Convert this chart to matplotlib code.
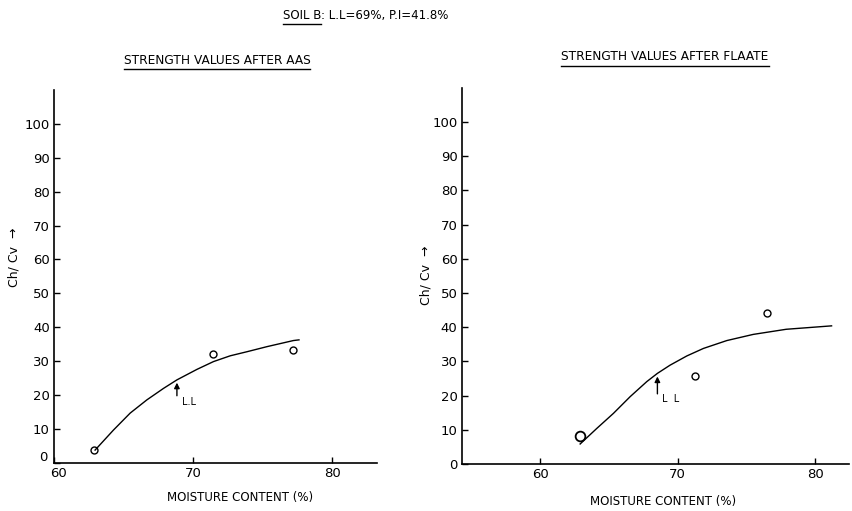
import matplotlib
matplotlib.use('Agg')
import matplotlib.pyplot as plt
import matplotlib.transforms as mtransforms
from matplotlib.lines import Line2D

# data
aas_x = [62.9, 71.4, 77.2]
aas_y = [3.8, 32.2, 33.3]
aas_curve_x = [62.95, 64.27, 65.47, 66.67, 67.87, 68.83, 70.27, 71.46, 72.66, 73.86, 75.3, 77.2, 77.6]
aas_curve_y = [3.8, 9.7, 14.7, 18.6, 22.0, 24.5, 27.6, 29.9, 31.6, 32.8, 34.3, 36.1, 36.3]

flaate_x = [62.9, 71.3, 76.5]
flaate_y = [8.2, 25.7, 44.2]
flaate_curve_x = [62.91, 64.12, 65.33, 66.55, 67.76, 68.53, 69.45, 70.67, 71.88, 73.58, 75.5, 77.9, 81.2]
flaate_curve_y = [5.85, 10.4, 14.8, 19.7, 24.1, 26.5, 28.9, 31.6, 33.8, 36.1, 37.9, 39.4, 40.4]

ll_aas = (68.83, 24.5)
ll_flaate = (68.53, 26.4)

xticks = [60, 70, 80]
yticks = list(range(0, 101, 10))

plt.rcParams['font.family'] = 'DejaVu Sans'
fig = plt.figure(figsize=(8.52, 5.11), dpi=100)

ax1 = fig.add_axes([0.0634, 0.094, 0.379, 0.730])
ax2 = fig.add_axes([0.542, 0.092, 0.455, 0.736])


def style(ax, xlim):
    ax.set_xlim(*xlim)
    ax.set_ylim(0, 110)
    for s in ['top', 'right']:
        ax.spines[s].set_visible(False)
    for s in ['left', 'bottom']:
        ax.spines[s].set_linewidth(1.2)
    ax.set_xticks(xticks)
    ax.set_yticks(yticks)
    ax.tick_params(direction='in', length=4, width=1, labelsize=9.5, pad=3)


style(ax1, (60, 83.2))
style(ax2, (54.3, 82.5))

# the "0" on the left panel sits a little above the axis in the scan
fig.canvas.draw()
lab0 = ax1.get_yticklabels()[0]
lab0.set_transform(lab0.get_transform() + mtransforms.ScaledTranslation(-2 / 72, 5 / 72, fig.dpi_scale_trans))
lab60 = ax1.get_xticklabels()[0]
lab60.set_transform(lab60.get_transform() + mtransforms.ScaledTranslation(3 / 72, 0, fig.dpi_scale_trans))

ax1.plot(aas_curve_x, aas_curve_y, color='black', lw=1.0)
ax1.plot(aas_x, aas_y, 'o', mfc='none', mec='black', ms=5, mew=1.0)
ax1.annotate('', xy=ll_aas, xytext=(ll_aas[0], ll_aas[1] - 5.5),
             arrowprops=dict(arrowstyle='-|>', color='black', lw=1, mutation_scale=8))
ax1.text(ll_aas[0] + 0.35, 18, 'L.L', fontsize=7, va='center')

ax2.plot(flaate_curve_x, flaate_curve_y, color='black', lw=1.0)
ax2.plot(flaate_x[1:], flaate_y[1:], 'o', mfc='none', mec='black', ms=5, mew=1.0)
ax2.plot(flaate_x[:1], flaate_y[:1], 'o', mfc='none', mec='black', ms=7, mew=1.3)
ax2.annotate('', xy=ll_flaate, xytext=(ll_flaate[0], 19.7),
             arrowprops=dict(arrowstyle='-|>', color='black', lw=1, mutation_scale=8))
ax2.text(ll_flaate[0] + 0.35, 19.0, 'L  L', fontsize=7, va='center')

# y labels
fig.text(14 / 852, 1 - 257 / 511, 'Ch/ Cv  \u2192', rotation=90, ha='center', va='center', fontsize=9)
fig.text(426 / 852, 1 - 275 / 511, 'Ch/ Cv  \u2192', rotation=90, ha='center', va='center', fontsize=9)

# x labels
fig.text(240 / 852, 1 - 498 / 511, 'MOISTURE CONTENT (%)', ha='center', va='center', fontsize=8.5)
fig.text(663 / 852, 1 - 502 / 511, 'MOISTURE CONTENT (%)', ha='center', va='center', fontsize=8.5)

# titles
t1 = fig.text(217 / 852, 1 - 60 / 511, 'STRENGTH VALUES AFTER AAS', ha='center', va='center', fontsize=8.7)
t2 = fig.text(665 / 852, 1 - 57 / 511, 'STRENGTH VALUES AFTER FLAATE', ha='center', va='center', fontsize=8.7)
t0a = fig.text(283 / 852, 1 - 15 / 511, 'SOIL B', ha='left', va='center', fontsize=8.5)

renderer = fig.canvas.get_renderer()
inv = fig.transFigure.inverted()
bb = t0a.get_window_extent(renderer=renderer)
x_after = inv.transform((bb.x1, bb.y0))[0]
fig.text(x_after, 1 - 15 / 511, ': L.L=69%, P.I=41.8%', ha='left', va='center', fontsize=8.5)

for t in [t1, t2, t0a]:
    bb = t.get_window_extent(renderer=renderer)
    (x0, y0), (x1, y1) = inv.transform([(bb.x0, bb.y0), (bb.x1, bb.y1)])
    fig.add_artist(Line2D([x0, x1], [y0 - 0.004, y0 - 0.004], color='black', lw=1.0,
                          transform=fig.transFigure))

fig.savefig('out.png', dpi=100)
